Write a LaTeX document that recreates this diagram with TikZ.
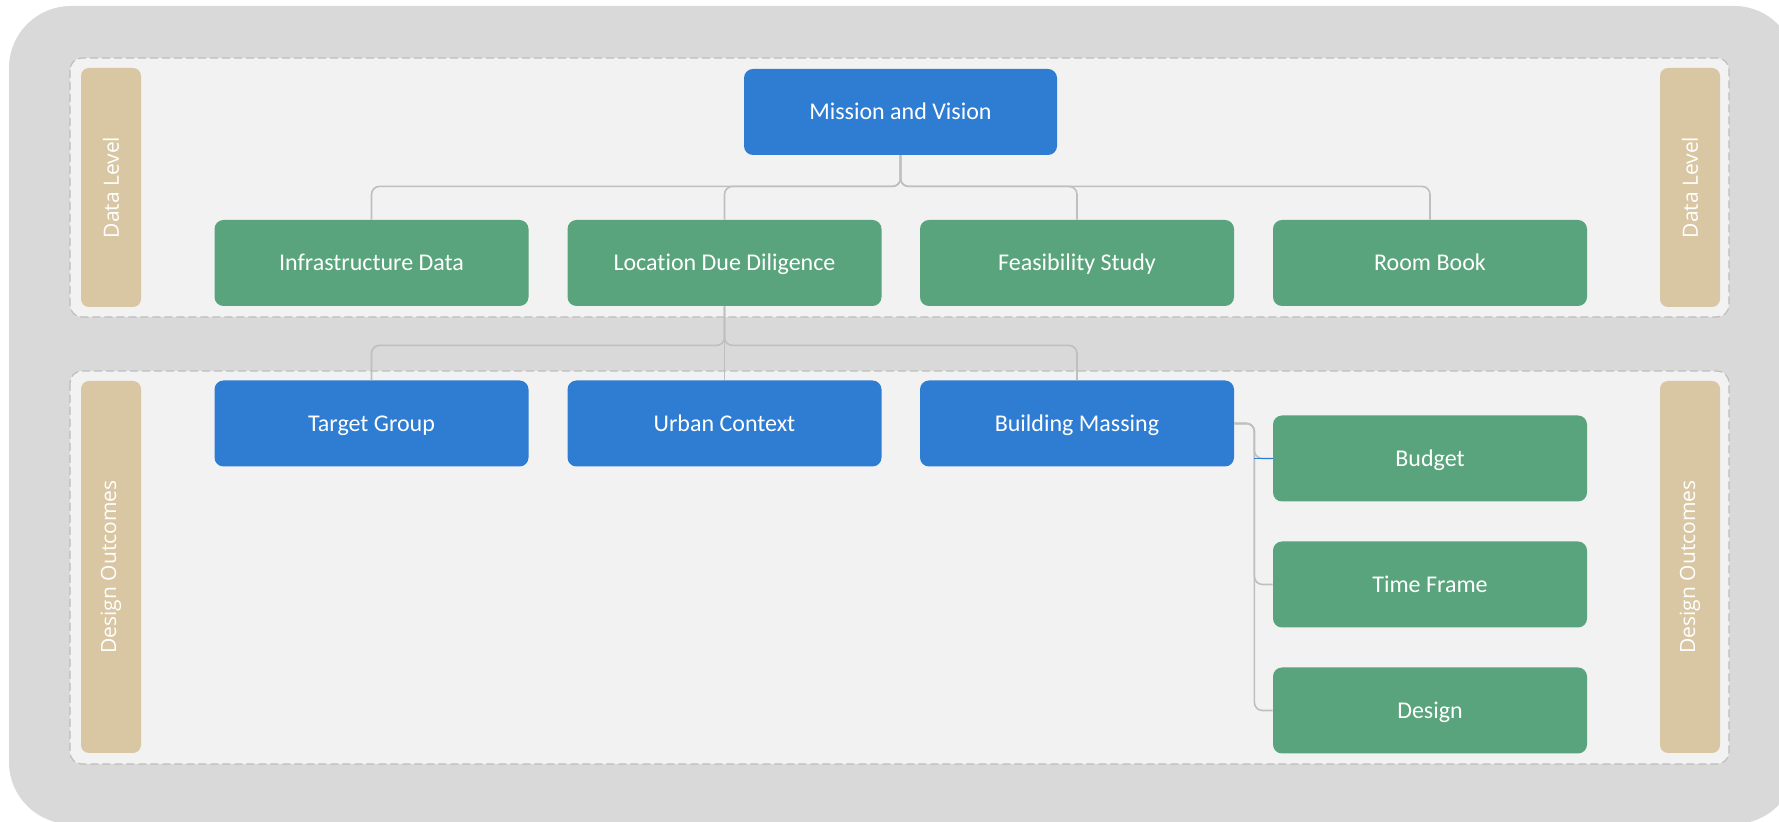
\documentclass[tikz,border=0pt]{standalone}
\usepackage{fontspec}
\setmainfont{Carlito}[Ligatures=NoCommon]
\newfontfamily\barfont{Open Sans}
\definecolor{outergray}{HTML}{D9D9D9}
\definecolor{panelgray}{HTML}{F2F2F2}
\definecolor{dashgray}{HTML}{BDBDBD}
\definecolor{boxblue}{HTML}{2E7DD2}
\definecolor{boxgreen}{HTML}{59A47C}
\definecolor{bartan}{HTML}{D9C7A4}
\definecolor{linegray}{HTML}{BFBFBF}

\tikzset{
  box/.style={rectangle, rounded corners=4.5pt, minimum width=157pt, minimum height=43pt,
    inner sep=0pt, text height=7.6pt, text depth=0pt, text=white, font=\fontsize{12}{14}\selectfont},
  bluebox/.style={box, fill=boxblue},
  greenbox/.style={box, fill=boxgreen},
  levelbar/.style={rectangle, rounded corners=4pt, fill=bartan, minimum height=30pt,
    inner sep=0pt, rotate=90, text=white, font=\barfont\fontsize{10.5}{12}\selectfont},
  panel/.style={fill=panelgray, draw=dashgray, dash pattern=on 4pt off 2pt, line width=0.6pt, rounded corners=6pt},
  conn/.style={draw=linegray, line width=0.8pt, rounded corners=4pt}
}

\begin{document}
\begin{tikzpicture}[x=0.5pt,y=-0.5pt]

% \draw[step=100,gray,very thin] (0,0) grid (1779,822);
        \useasboundingbox (0,0) rectangle (1779,822);
        \fill[outergray, rounded corners=31pt] (9,6) rectangle (1796,824);
        \draw[panel] (70,58) rectangle (1729,317);
        \draw[panel] (70,371) rectangle (1729,764);

        \node[levelbar, minimum width=119.5pt] (data_left) at (111,187.5) {Data Level};
        \node[levelbar, minimum width=119.5pt] (data_right) at (1690,187.5) {Data Level};
        \node[levelbar, minimum width=186pt] (design_left) at (111,567) {Design Outcomes};
        \node[levelbar, minimum width=186pt] (design_right) at (1690,567) {Design Outcomes};

        \node[bluebox, minimum width=156.5pt] (mission) at (900.5,112) {Mission and Vision};

        \foreach \n/\x/\t in {infra/371.5/Infrastructure Data, location/724.5/Location Due Diligence,
                              feasibility/1077/Feasibility Study, roombook/1430/Room Book}
            \node[greenbox] (\n) at (\x,263) {\t};
        \foreach \n/\x/\t in {target/371.5/Target Group, urban/724.5/Urban Context, massing/1077/Building Massing}
            \node[bluebox] (\n) at (\x,423.5) {\t};
        \foreach \n/\y/\t in {budget/458.5/Budget, timeframe/584.5/Time Frame, design/710.5/Design}
            \node[greenbox] (\n) at (1430,\y) {\t};

        \foreach \n in {infra,location,feasibility,roombook}
            \draw[conn] (mission.south) -- ++(0,31) -| (\n.north);
        \foreach \n in {target,urban,massing}
            \draw[conn] (location.south) -- ++(0,39) -| (\n.north);
        \foreach \n in {budget,timeframe,design}
            \draw[conn] (massing.east) -- ++(20,0) |- (\n.west);
        \draw[boxblue, line width=0.8pt] (budget.west) -- ++(-19,0);

    \end{tikzpicture}
\end{document}
